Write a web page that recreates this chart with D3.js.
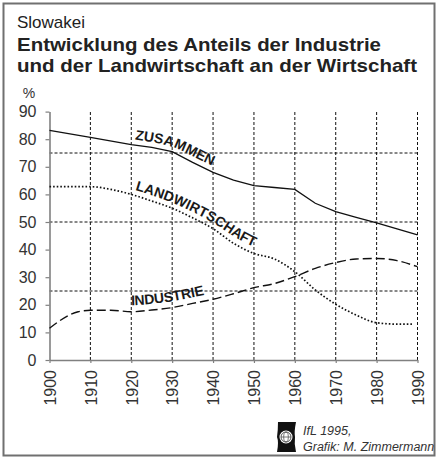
<!DOCTYPE html>
<html>
<head>
<meta charset="utf-8">
<script src="https://cdn.jsdelivr.net/npm/d3@7"></script>
<style>
  body { margin: 0; background: #fff; }
  svg { display: block; font-family: "Liberation Sans", Arial, sans-serif; }
</style>
</head>
<body>
<svg id="chart"></svg>
<script>
// data (percent shares)
var zusYears  = [1900, 1910, 1920, 1925, 1930, 1935, 1940, 1945, 1950, 1955, 1960, 1965, 1970, 1975, 1980, 1985, 1990];
var zusValues = [83.2, 80.7, 78, 77, 75.5, 71.6, 68, 65.2, 63.2, 62.5, 61.8, 56.8, 53.8, 51.7, 49.7, 47.5, 45.3];

var landYears  = [1900, 1910, 1915, 1920, 1925, 1930, 1935, 1940, 1945, 1950, 1955, 1960, 1965, 1970, 1975, 1980, 1985, 1989];
var landValues = [62.8, 62.8, 61.8, 60, 57.6, 55, 51.5, 47.6, 42.3, 38.6, 36.6, 32, 25.4, 20.2, 16.3, 13.5, 13, 13];

var indYears  = [1900, 1907, 1910, 1915, 1920, 1925, 1930, 1935, 1940, 1945, 1950, 1955, 1960, 1965, 1970, 1975, 1980, 1985, 1990];
var indValues = [11.5, 17.5, 18, 18, 17.5, 18.1, 19, 20.5, 22, 24, 26.2, 27.7, 30.2, 33.2, 35.3, 36.6, 36.8, 36, 33.8];

var xTicks = [1900, 1910, 1920, 1930, 1940, 1950, 1960, 1970, 1980, 1990];
var yTicks = [0, 10, 20, 30, 40, 50, 60, 70, 80, 90];
var gridY = [25, 50, 75];

var W = 438, H = 459;
var svg = d3.select("#chart")
    .attr("width", W)
    .attr("height", H);

// outer frame
svg.append("rect")
    .attr("x", 3.5).attr("y", 3.5)
    .attr("width", W - 7).attr("height", H - 7)
    .attr("fill", "none")
    .attr("stroke", "#707070")
    .attr("stroke-width", 2);

// titles
svg.append("text").attr("x", 17).attr("y", 28)
    .attr("font-size", 17).attr("fill", "#222")
    .text("Slowakei");
svg.append("text").attr("x", 17).attr("y", 50.5)
    .attr("font-size", 18.5).attr("font-weight", "bold").attr("fill", "#222")
    .attr("textLength", 364).attr("lengthAdjust", "spacingAndGlyphs")
    .text("Entwicklung des Anteils der Industrie");
svg.append("text").attr("x", 17).attr("y", 71.5)
    .attr("font-size", 18.5).attr("font-weight", "bold").attr("fill", "#222")
    .attr("textLength", 400).attr("lengthAdjust", "spacingAndGlyphs")
    .text("und der Landwirtschaft an der Wirtschaft");

var x = d3.scaleLinear().domain([1900, 1990]).range([49.5, 417.5]),
    y = d3.scaleLinear().domain([0, 90]).range([360, 111.6]);

var g = svg.append("g");

// dashed grid
g.selectAll(".vgrid")
  .data(xTicks.slice(1))
  .enter().append("line")
    .attr("class", "vgrid")
    .attr("x1", function(d) { return x(d); })
    .attr("x2", function(d) { return x(d); })
    .attr("y1", y(0))
    .attr("y2", y(90))
    .attr("stroke", "#111")
    .attr("stroke-width", 1)
    .attr("stroke-dasharray", "3,2");

g.selectAll(".hgrid")
  .data(gridY)
  .enter().append("line")
    .attr("class", "hgrid")
    .attr("x1", x(1900))
    .attr("x2", x(1990))
    .attr("y1", function(d) { return y(d); })
    .attr("y2", function(d) { return y(d); })
    .attr("stroke", "#111")
    .attr("stroke-width", 1)
    .attr("stroke-dasharray", "3,2");

// axes
var yaxis = g.append("g")
    .attr("transform", "translate(" + x(1900) + ",0)")
    .call(d3.axisLeft(y).tickValues(yTicks).tickSize(4).tickSizeOuter(0).tickPadding(9));

var xaxis = g.append("g")
    .attr("transform", "translate(0," + y(0) + ")")
    .call(d3.axisBottom(x).tickValues(xTicks).tickSize(3).tickSizeOuter(0).tickFormat(d3.format("d")));

[xaxis, yaxis].forEach(function(a) {
  a.select(".domain").attr("stroke", "#808080").attr("stroke-width", 1.6);
  a.selectAll(".tick line").attr("stroke", "#808080").attr("stroke-width", 1.2);
  a.selectAll("text")
    .attr("font-family", "'Liberation Sans', Arial, sans-serif")
    .attr("font-size", 16)
    .attr("fill", "#333");
});

xaxis.selectAll(".tick text")
    .attr("transform", "rotate(-90)")
    .attr("x", -10)
    .attr("y", 0)
    .attr("dy", "0.36em")
    .attr("text-anchor", "end");

svg.append("text").attr("x", 29).attr("y", 98)
    .attr("text-anchor", "middle")
    .attr("font-size", 14).attr("fill", "#333")
    .text("%");

// series
function pts(years, vals) {
  return years.map(function(yr, i) { return [yr, vals[i]]; });
}
var series = [
  { id: "zus",  data: pts(zusYears, zusValues),   curve: d3.curveLinear,    dash: null,   width: 1.3 },
  { id: "land", data: pts(landYears, landValues), curve: d3.curveMonotoneX, dash: "1.6,2", width: 1.7 },
  { id: "ind",  data: pts(indYears, indValues),   curve: d3.curveMonotoneX, dash: "9,4",  width: 1.4 }
];

var defs = svg.append("defs");

series.forEach(function(s) {
  var line = d3.line()
      .curve(s.curve)
      .x(function(d) { return x(d[0]); })
      .y(function(d) { return y(d[1]); });
  g.append("path")
      .attr("d", line(s.data))
      .attr("fill", "none")
      .attr("stroke", "#111")
      .attr("stroke-width", s.width)
      .attr("stroke-dasharray", s.dash);
  // smoothed copy for the label to run along
  var smooth = d3.line()
      .curve(d3.curveBasis)
      .x(function(d) { return x(d[0]); })
      .y(function(d) { return y(d[1]); });
  defs.append("path")
      .attr("id", "label-" + s.id)
      .attr("d", smooth(s.data));
});

// labels run along their lines
var labels = [
  { id: "zus",  text: "ZUSAMMEN",       from: 1920.6, dy: -5.5 },
  { id: "land", text: "LANDWIRTSCHAFT", from: 1920.5, dy: -5.5 },
  { id: "ind",  text: "INDUSTRIE",      from: 1920.0, dy: -6 }
];

function lengthAtX(node, px) {
  var lo = 0, hi = node.getTotalLength();
  for (var k = 0; k < 40; k++) {
    var mid = (lo + hi) / 2;
    if (node.getPointAtLength(mid).x < px) lo = mid; else hi = mid;
  }
  return lo;
}

labels.forEach(function(l) {
  var node = document.getElementById("label-" + l.id);
  svg.append("text")
      .attr("font-size", 14)
      .attr("font-weight", "bold")
      .attr("fill", "#1a1a1a")
      .attr("dy", l.dy)
    .append("textPath")
      .attr("href", "#label-" + l.id)
      .attr("startOffset", lengthAtX(node, x(l.from)))
      .text(l.text);
});

// credits + logo
var logo = svg.append("g").attr("transform", "translate(286,437)");
logo.append("path")
    .attr("d", "M-8,-15 L10,-15 Q8,-5 9,0 Q8,7 10,15 L-9,15 Q-7,5 -9,0 Q-8,-7 -8,-15 Z")
    .attr("fill", "#111");
logo.append("circle").attr("r", 6.5).attr("fill", "#fff");
logo.append("circle").attr("r", 5).attr("fill", "none").attr("stroke", "#555").attr("stroke-width", 1);
logo.append("ellipse").attr("rx", 2.3).attr("ry", 5).attr("fill", "none").attr("stroke", "#555").attr("stroke-width", 0.8);
logo.append("line").attr("x1", -5).attr("x2", 5).attr("stroke", "#555").attr("stroke-width", 0.8);

svg.append("text").attr("x", 303).attr("y", 435)
    .attr("font-size", 12.5).attr("font-style", "italic").attr("fill", "#333")
    .text("IfL 1995,");
svg.append("text").attr("x", 303).attr("y", 451)
    .attr("font-size", 12.5).attr("font-style", "italic").attr("fill", "#333")
    .text("Grafik: M. Zimmermann");
</script>
</body>
</html>
